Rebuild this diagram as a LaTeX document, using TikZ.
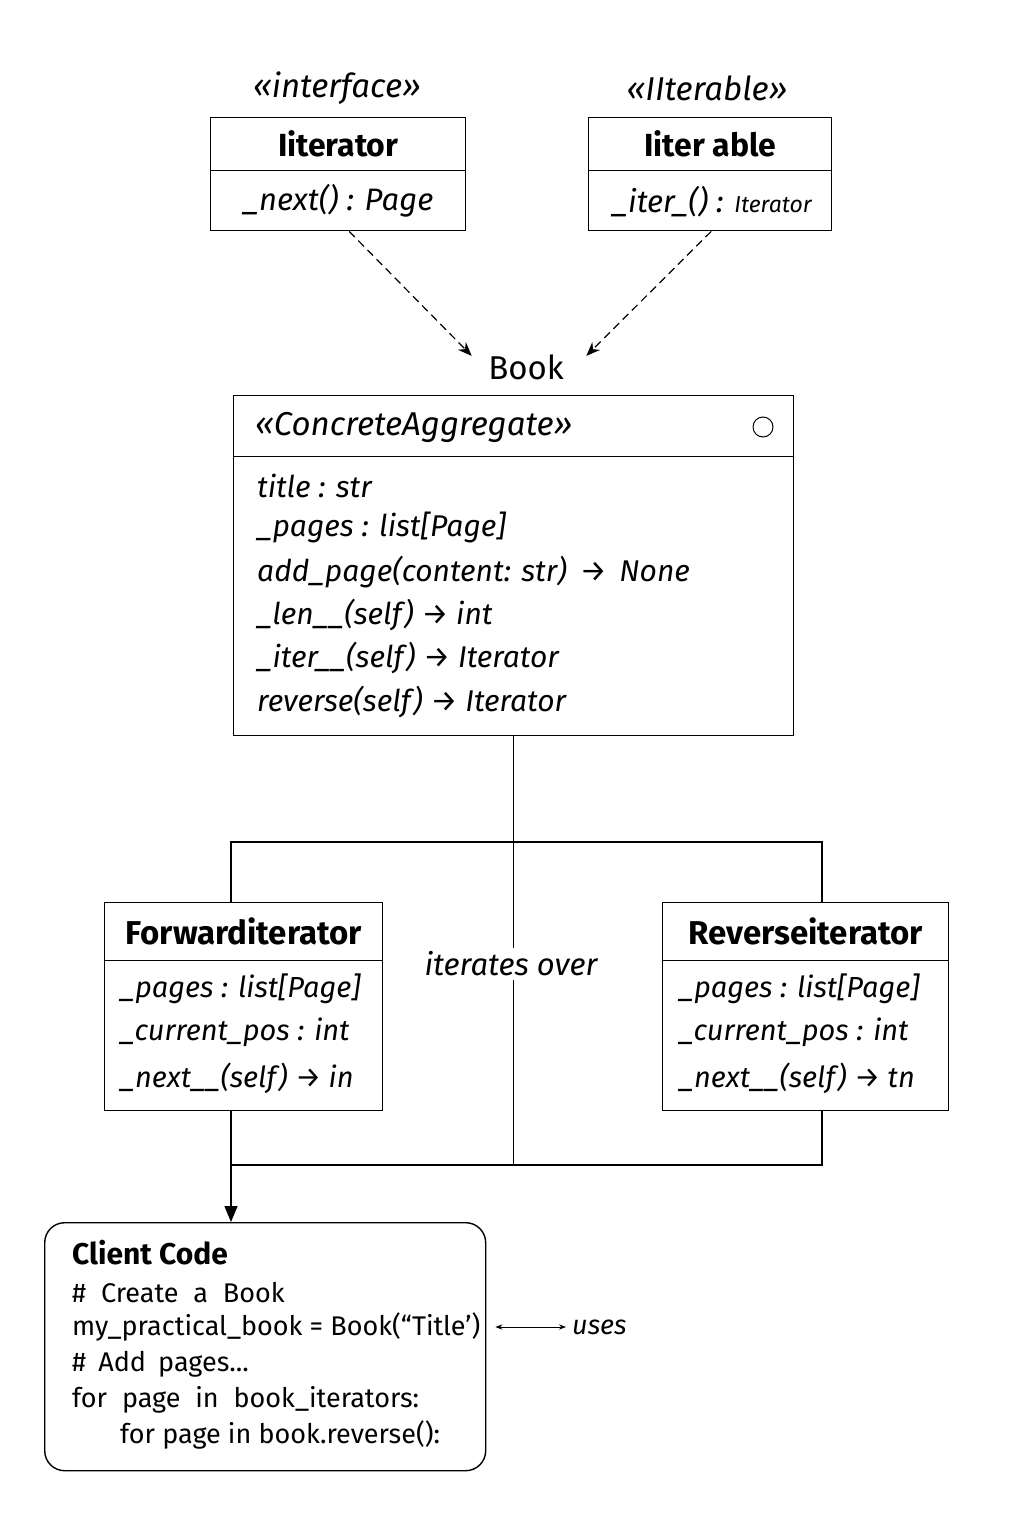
\documentclass[tikz,border=0pt]{standalone}
\usepackage{fontspec}
\setmainfont{Fira Sans}
\usetikzlibrary{positioning,arrows.meta}

\begin{document}
\begin{tikzpicture}[x=1pt,y=-1pt,
    cls/.style={draw,line width=1.4pt,inner sep=0pt,anchor=north west},
    ttl/.style={font=\fontsize{32}{38}\selectfont\bfseries},
    ster/.style={font=\fontsize{33}{38}\selectfont\itshape},
    attr/.style={anchor=west,inner sep=0pt,font=\fontsize{30}{36}\selectfont\itshape},
    code/.style={anchor=west,inner sep=0pt,font=\fontsize{27}{32}\selectfont}]
  \useasboundingbox (0,0) rectangle (1024,1536);
  % interfaces
  \node [ster] (itrS) at (337,88) {«interface»};
  \node [cls,ttl,minimum width=255pt,minimum height=53pt] (itrT) at (210,117) {Iiterator};
  \node [cls,minimum width=255pt,minimum height=60pt,font=\fontsize{31}{36}\selectfont\itshape] (itrB) at (210,170) {\_next() : Page};
  \node [ster] (iblS) at (707,88) {«IIterable»};
  \node [cls,ttl,minimum width=243pt,minimum height=53pt] (iblT) at (588,117) {Iiter able};
  \node [cls,minimum width=243pt,minimum height=60pt] (iblB) at (588,170) {};
  \node [attr,font=\fontsize{31}{36}\selectfont\itshape] at (612,202) {\_iter\_() : {\fontsize{23}{27}\selectfont Iterator}};
  % aggregate
  \node [font=\fontsize{33}{38}\selectfont] (bookL) at (526,367) {Book};
  \draw [dash pattern=on 8pt off 5pt,line width=1.2pt,-{Stealth[length=14pt,width=11pt]}] ([xshift=11pt]itrB.south) -- ([shift={(-13,5)}]bookL.north west);
  \draw [dash pattern=on 8pt off 5pt,line width=1.2pt,-{Stealth[length=14pt,width=11pt]}] ([xshift=1pt]iblB.south) -- ([shift={(19,5)}]bookL.north east);
  \node [cls,minimum width=560pt,minimum height=61pt] (bookT) at (233,395) {};
  \node [cls,minimum width=560pt,minimum height=279pt] (bookB) at (233,456) {};
  \node [attr,ster] at (255,427) {«ConcreteAggregate»};
  \draw [line width=1pt] (763,427) circle (10);
  \foreach \y/\t in {486/{title : str},527/{\_pages : list[Page]},572/{add\_page(content: str) \,→\, None},
      615/{\_len\_\_(self) → int},658/{\_iter\_\_(self) → Iterator},702/{reverse(self) → Iterator}}
    \node [attr] at (257,\y) {\t};
  % iterators
  \node [cls,ttl,font=\fontsize{33}{38}\selectfont\bfseries,minimum width=278pt,minimum height=58pt] (fwdT) at (104,902) {Forwarditerator};
  \node [cls,minimum width=278pt,minimum height=150pt] (fwdB) at (104,960) {};
  \node [cls,ttl,font=\fontsize{33}{38}\selectfont\bfseries,minimum width=286pt,minimum height=58pt] (revT) at (662,902) {Reverseiterator};
  \node [cls,minimum width=286pt,minimum height=150pt] (revB) at (662,960) {};
  \foreach \y/\t in {989/{\_pages : list[Page]},1032/{\_current\_pos : int}}{
    \node [attr,font=\fontsize{29}{34}\selectfont\itshape] at (120,\y) {\t};
    \node [attr,font=\fontsize{29}{34}\selectfont\itshape] at (679,\y) {\t};
  }
  \node [attr,font=\fontsize{29}{34}\selectfont\itshape] at (120,1078) {\_next\_\_(self) → in};
  \node [attr,font=\fontsize{29}{34}\selectfont\itshape] at (679,1078) {\_next\_\_(self) → tn};
  \coordinate (fj) at (231,842);
  \coordinate (rj) at (822,842);
  \coordinate (fb) at (231,1165);
  \coordinate (rb) at (822,1165);
  \draw [line width=1.3pt] (fwdT.north -| fj) -- (fj) -- (rj) -- (revT.north -| rj);
  \draw [line width=1.3pt] (fwdB.south -| fb) -- (fb) -- (rb) -- (revB.south -| rb);
  \draw [line width=1.3pt] (bookB.south) -- (bookB.south |- fb);
  \node [fill=white,inner sep=4pt,font=\fontsize{31}{36}\selectfont\itshape] (iter) at (511,964) {iterates over};
  % client
  \node [cls,rounded corners=20pt,minimum width=441pt,minimum height=248pt] (client) at (44,1222) {};
  \draw [line width=1.3pt,-{Triangle[length=16pt,width=13pt]}] (fb) -- (fb |- client.north);
  \node [code,font=\fontsize{30}{36}\selectfont\bfseries] (c0) at (72,1253) {Client Code};
  \node [code] (c1) at (72,1293) {\spaceskip=0.55em\relax\# Create a Book};
  \node [code] (c2) at (72,1327) {my\_practical\_book = Book(“Title’)};
  \node [code] (c3) at (72,1364) {\spaceskip=0.45em\relax\# Add pages...};
  \node [code] (c4) at (72,1400) {\spaceskip=0.55em\relax for page in book\_iterators:};
  \node [code] (c5) at (120,1435) {for page in book.reverse():};
  \node [attr,font=\fontsize{27}{32}\selectfont\itshape] (uses) at (572,1327) {uses};
  \draw [line width=1pt,{Stealth[length=7pt]}-{Stealth[length=7pt]}] ([xshift=9pt]client.east |- c2) -- ([xshift=-6pt]uses.west);
\end{tikzpicture}
\end{document}
